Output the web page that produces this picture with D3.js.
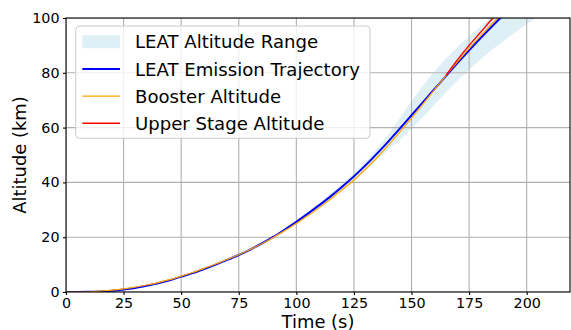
<!DOCTYPE html>
<html>
<head>
<meta charset="utf-8">
<script src="https://cdn.jsdelivr.net/npm/d3@7/dist/d3.min.js"></script>
<style>
  html, body { margin: 0; padding: 0; background: #fff; }
  svg { display: block; }
  text { font-family: "DejaVu Sans", sans-serif; fill: #000; }
</style>
</head>
<body>
<svg id="chart" width="571" height="330"></svg>
<script>
// Time axis (s) shared by the LEAT emission and booster tracks
const time = [0,5,10,15,20,25,30,35,40,45,50,55,60,65,70,75,80,85,90,95,
              100,105,110,115,120,125,130,135,140,145,150,155,160,165,170,175,180,185,190];
// LEAT emission trajectory altitude (km)
const leatAlt = [0,0,0.05,0.2,0.45,0.9,1.5,2.3,3.2,4.3,5.6,6.9,8.4,10.0,11.7,13.5,15.5,17.7,20.1,22.8,
                 25.6,28.6,31.7,35.0,38.5,42.2,46.2,50.5,55.0,59.7,64.5,69.3,74.1,78.9,83.6,88.2,92.7,97.0,101.2];
// Booster altitude (km)
const boosterAlt = [0,0,0.1,0.3,0.65,1.15,1.75,2.55,3.45,4.5,5.8,7.1,8.6,10.2,11.85,13.6,15.5,17.6,19.9,22.4,
                    25.0,27.8,30.8,34.0,37.4,40.9,44.8,49.0,53.6,58.5,63.5,68.7,73.9,79.1,84.1,88.9,93.5,97.9,102.2];
// Upper stage altitude after separation (km)
const upperTime = [165,170,175,180,185,190];
const upperAlt = [79.1,84.8,90.0,94.8,99.6,104.0];
// LEAT altitude range envelope (km)
const rangeTime = [0,10,20,30,40,50,60,70,80,90,100,105,110,115,120,125,130,135,140,145,150,
                   155,160,165,170,175,180,185,190,195,200,205,210];
const rangeLow = [0,0,0.3,1.3,2.9,5.3,8.0,11.2,15.0,19.6,25.0,27.9,31.0,34.2,37.6,41.0,44.6,48.3,51.9,55.7,59.6,
                  63.9,68.4,72.9,77.2,81.2,84.9,88.4,91.6,94.7,97.7,100.5,103.2];
const rangeHigh = [0.1,0.2,0.7,1.8,3.5,5.9,8.8,12.2,16.0,20.6,26.2,29.3,32.6,36.0,39.7,43.5,47.6,52.3,57.6,63.5,69.6,
                   75.4,80.6,85.2,89.4,93.3,97.0,100.5,103.8,107.0,110.0,113.0,116.0];

const xTicks = [0,25,50,75,100,125,150,175,200];
const yTicks = [0,20,40,60,80,100];

const legendItems = [
  { label: "LEAT Altitude Range", kind: "patch" },
  { label: "LEAT Emission Trajectory", kind: "line", color: "#0000ff", width: 2 },
  { label: "Booster Altitude", kind: "line", color: "#ffa500", width: 1.2 },
  { label: "Upper Stage Altitude", kind: "line", color: "#ff0000", width: 1.4 }
];

const svg = d3.select("#chart");
const L = 66, R = 570, T = 18, B = 292;

const x = d3.scaleLinear().domain([0, 218.8]).range([L, R]);
const y = d3.scaleLinear().domain([0, 100]).range([B, T]);

svg.append("defs").append("clipPath").attr("id", "plotClip")
  .append("rect").attr("x", L).attr("y", T).attr("width", R - L).attr("height", B - T);

const plot = svg.append("g").attr("clip-path", "url(#plotClip)");

// envelope band
const area = d3.area()
  .curve(d3.curveMonotoneX)
  .x((d, i) => x(rangeTime[i]))
  .y0((d, i) => y(rangeLow[i]))
  .y1((d, i) => y(rangeHigh[i]));
plot.append("path").datum(rangeTime)
  .attr("d", area)
  .attr("fill", "#add8e6").attr("fill-opacity", 0.4);

// grid (drawn above the band, below the lines)
const grid = plot.append("g");
grid.selectAll(".gx").data(xTicks).join("line")
  .attr("x1", d => x(d)).attr("x2", d => x(d))
  .attr("y1", T).attr("y2", B)
  .attr("stroke", "#b0b0b0").attr("stroke-width", 1.1);
grid.selectAll(".gy").data(yTicks).join("line")
  .attr("x1", L).attr("x2", R)
  .attr("y1", d => y(d)).attr("y2", d => y(d))
  .attr("stroke", "#b0b0b0").attr("stroke-width", 1.1);

function track(ts, vals, color, w) {
  const line = d3.line()
    .curve(d3.curveMonotoneX)
    .x((d, i) => x(ts[i])).y((d, i) => y(vals[i]));
  plot.append("path").datum(ts)
    .attr("d", line)
    .attr("fill", "none")
    .attr("stroke", color)
    .attr("stroke-width", w)
    .attr("stroke-linejoin", "round")
    .attr("stroke-linecap", "butt");
}
track(time, leatAlt, "#0000ff", 2);
track(time, boosterAlt, "#ffa500", 1.2);
track(upperTime, upperAlt, "#ff0000", 1.4);

// axes
const xAxis = d3.axisBottom(x).tickValues(xTicks).tickSize(3).tickPadding(3.3).tickFormat(d3.format("d"));
const yAxis = d3.axisLeft(y).tickValues(yTicks).tickSize(3).tickPadding(3.5).tickFormat(d3.format("d"));

const gx = svg.append("g").attr("transform", `translate(0,${B})`).call(xAxis);
const gy = svg.append("g").attr("transform", `translate(${L},0)`).call(yAxis);
[gx, gy].forEach(g => {
  g.select(".domain").remove();
  g.selectAll(".tick line").attr("stroke", "#000").attr("stroke-width", 1.1);
  g.selectAll(".tick text").attr("font-family", "DejaVu Sans").attr("font-size", "14.3px").attr("fill", "#000");
});

// spines
svg.append("rect")
  .attr("x", L).attr("y", T).attr("width", R - L).attr("height", B - T)
  .attr("fill", "none").attr("stroke", "#000").attr("stroke-width", 1.1);

// axis titles
svg.append("text")
  .attr("x", (L + R) / 2).attr("y", 328)
  .attr("text-anchor", "middle")
  .attr("font-size", "17.9px")
  .text("Time (s)");
svg.append("text")
  .attr("transform", `translate(25.5,${(T + B) / 2}) rotate(-90)`)
  .attr("text-anchor", "middle")
  .attr("font-size", "17.9px")
  .text("Altitude (km)");

// legend
const lg = svg.append("g");
lg.append("rect")
  .attr("x", 75.7).attr("y", 26).attr("width", 294.3).attr("height", 112.3)
  .attr("rx", 4).attr("ry", 4)
  .attr("fill", "#fff").attr("fill-opacity", 0.8)
  .attr("stroke", "#cccccc").attr("stroke-width", 1);

const rowY = d3.scaleLinear().domain([0, 3]).range([41.7, 123.3]);
legendItems.forEach((item, i) => {
  const cy = rowY(i);
  if (item.kind === "patch") {
    lg.append("rect")
      .attr("x", 82.3).attr("y", cy - 6.5).attr("width", 37.7).attr("height", 13)
      .attr("fill", "#add8e6").attr("fill-opacity", 0.4);
  } else {
    lg.append("line")
      .attr("x1", 82.3).attr("x2", 120).attr("y1", cy).attr("y2", cy)
      .attr("stroke", item.color).attr("stroke-width", item.width);
  }
  lg.append("text")
    .attr("x", 135).attr("y", cy + 6.6)
    .attr("font-size", "18.1px")
    .text(item.label);
});
</script>
</body>
</html>
